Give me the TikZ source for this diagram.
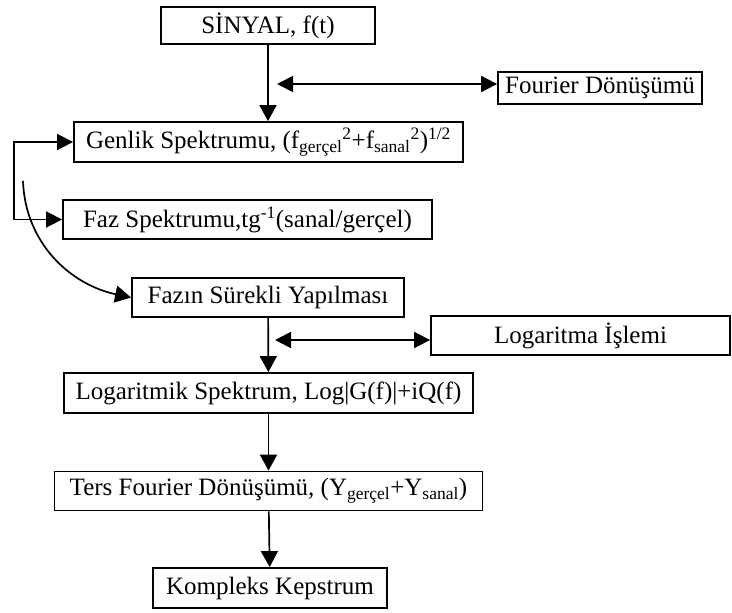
\documentclass[tikz,border=0pt]{standalone}
\usepackage{fontspec}
\setmainfont{Liberation Serif}
\usetikzlibrary{arrows.meta,positioning,calc}
\tikzset{
  blk/.style={draw=black, line width=1.8pt, inner sep=0pt, align=center,
              font=\fontsize{25}{30}\selectfont},
  flowarr/.style={-{Triangle[length=16pt,width=17pt]}, line width=1.7pt},
  acr/.style={{Triangle[length=16pt,width=16pt]}-{Triangle[length=16pt,width=16pt]}, line width=1.7pt},
}

\begin{document}
\begin{tikzpicture}[x=1pt, y=-1pt]
  \useasboundingbox (0,0) rectangle (732,613);
  % kutular
  \node[blk, minimum width=214pt, minimum height=37pt] (sig) at (268,25.5) {SİNYAL, f(t)};
  \node[blk, minimum width=204pt, minimum height=32pt] (fou) at (600,88) {Fourier Dönüşümü};
  \node[blk, minimum width=389pt, minimum height=40pt] (gen) at (268.5,142)
    {Genlik Spektrumu, (f\textsubscript{gerçel}\textsuperscript{2}+f\textsubscript{sanal}\textsuperscript{2})\textsuperscript{1/2}};
  \node[blk, minimum width=369pt, minimum height=39pt] (faz) at (247.5,219.5)
    {Faz Spektrumu,tg\textsuperscript{-1}(sanal/gerçel)};
  \node[blk, minimum width=272pt, minimum height=39pt] (fsur) at (268,297.5) {Fazın Sürekli Yapılması};
  \node[blk, minimum width=299pt, minimum height=39pt] (logi) at (580.5,335.5) {Logaritma İşlemi};
  \node[blk, minimum width=409pt, minimum height=40pt] (logs) at (268.5,393)
    {Logaritmik Spektrum, Log|G(f)|+iQ(f)};
  \node[blk, minimum width=428pt, minimum height=39pt] (ters) at (268.5,491)
    {Ters Fourier Dönüşümü, (Y\textsubscript{gerçel}+Y\textsubscript{sanal})};
  \node[blk, minimum width=234pt, minimum height=40pt] (komp) at (270,588) {Kompleks Kepstrum};
  % serbest uclar
  \coordinate (fa) at (277,84);
  \coordinate (la) at (275,340);
  \coordinate (cs) at (23,181);
  % baglantilar
  \draw[flowarr] (sig) -- (sig |- gen.north);
  \draw[acr] (fa) -- (fa -| fou.west);
  \draw[acr] (faz.west) -- ++(-48,0) |- (gen.west);
  \draw[flowarr] (cs) to[out=-88, in=168] (fsur.west);
  \draw[flowarr] (fsur) -- (logs);
  \draw[acr] (la) -- (la -| logi.west);
  \draw[flowarr] (logs) -- (ters);
  \draw[flowarr] (ters) -- (komp);
\end{tikzpicture}
\end{document}
